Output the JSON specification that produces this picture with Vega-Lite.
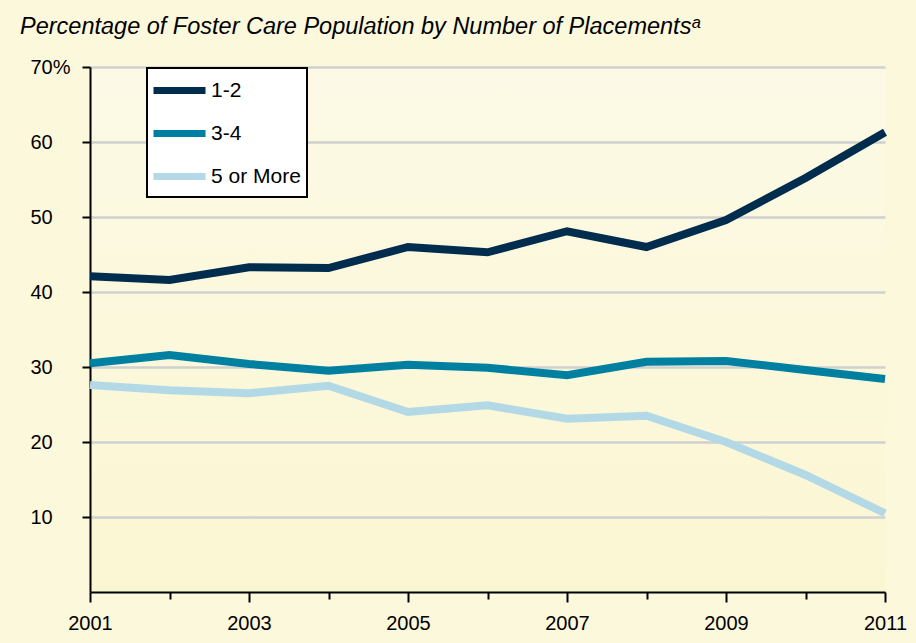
{
  "$schema": "https://vega.github.io/schema/vega-lite/v6.json",
  "width": 795,
  "height": 525,
  "autosize": {"type": "none"},
  "padding": {"left": 90, "top": 67, "right": 31, "bottom": 51},
  "background": "#fcf8dc",
  "title": {
    "text": "Percentage of Foster Care Population by Number of Placementsᵃ",
    "anchor": "start",
    "frame": "group",
    "dx": -70,
    "offset": 19,
    "font": "Liberation Sans",
    "fontStyle": "italic",
    "fontWeight": "normal",
    "fontSize": 23.5,
    "color": "black"
  },
  "config": {
    "view": {
      "stroke": null,
      "fill": {
        "gradient": "linear",
        "x1": 0, "y1": 0, "x2": 0, "y2": 1,
        "stops": [
          {"offset": 0, "color": "#fcfae6"},
          {"offset": 1, "color": "#fbf6d2"}
        ]
      }
    },
    "axis": {
      "domainColor": "black",
      "domainWidth": 2,
      "tickColor": "black",
      "tickWidth": 2,
      "labelColor": "black",
      "labelFont": "Liberation Sans",
      "labelFontSize": 20,
      "title": null
    }
  },
  "data": {
    "values": [
      {"year": 2001, "group": "1-2", "value": 42.1},
      {"year": 2002, "group": "1-2", "value": 41.6},
      {"year": 2003, "group": "1-2", "value": 43.3},
      {"year": 2004, "group": "1-2", "value": 43.2},
      {"year": 2005, "group": "1-2", "value": 46.0},
      {"year": 2006, "group": "1-2", "value": 45.3},
      {"year": 2007, "group": "1-2", "value": 48.1},
      {"year": 2008, "group": "1-2", "value": 46.0},
      {"year": 2009, "group": "1-2", "value": 49.6},
      {"year": 2010, "group": "1-2", "value": 55.2},
      {"year": 2011, "group": "1-2", "value": 61.3},
      {"year": 2001, "group": "3-4", "value": 30.5},
      {"year": 2002, "group": "3-4", "value": 31.6},
      {"year": 2003, "group": "3-4", "value": 30.4},
      {"year": 2004, "group": "3-4", "value": 29.5},
      {"year": 2005, "group": "3-4", "value": 30.3},
      {"year": 2006, "group": "3-4", "value": 29.9},
      {"year": 2007, "group": "3-4", "value": 28.9},
      {"year": 2008, "group": "3-4", "value": 30.7},
      {"year": 2009, "group": "3-4", "value": 30.8},
      {"year": 2010, "group": "3-4", "value": 29.6},
      {"year": 2011, "group": "3-4", "value": 28.4},
      {"year": 2001, "group": "5 or More", "value": 27.6},
      {"year": 2002, "group": "5 or More", "value": 26.9},
      {"year": 2003, "group": "5 or More", "value": 26.5},
      {"year": 2004, "group": "5 or More", "value": 27.5},
      {"year": 2005, "group": "5 or More", "value": 24.0},
      {"year": 2006, "group": "5 or More", "value": 24.9},
      {"year": 2007, "group": "5 or More", "value": 23.1},
      {"year": 2008, "group": "5 or More", "value": 23.5},
      {"year": 2009, "group": "5 or More", "value": 20.0},
      {"year": 2010, "group": "5 or More", "value": 15.6},
      {"year": 2011, "group": "5 or More", "value": 10.5}
    ]
  },
  "mark": {"type": "line", "strokeWidth": 8},
  "encoding": {
    "x": {
      "field": "year",
      "type": "quantitative",
      "scale": {"domain": [2001, 2011], "nice": false, "zero": false},
      "axis": {
        "values": [2001, 2002, 2003, 2004, 2005, 2006, 2007, 2008, 2009, 2010, 2011],
        "format": "d",
        "labelExpr": "datum.value % 2 == 1 ? datum.label : ''",
        "tickSize": {"condition": {"test": "datum.value % 2 == 1", "value": 10}, "value": 7},
        "labelPadding": 11,
        "grid": false,
        "labelFlush": false,
        "labelOverlap": false
      }
    },
    "y": {
      "field": "value",
      "type": "quantitative",
      "scale": {"domain": [0, 70], "nice": false},
      "axis": {
        "values": [10, 20, 30, 40, 50, 60, 70],
        "labelExpr": "datum.value == 70 ? '70%' : datum.label",
        "labelAlign": "left",
        "tickSize": 8,
        "labelPadding": 52,
        "grid": true,
        "gridColor": "#d0d0d0",
        "gridWidth": 2.5
      }
    },
    "color": {
      "field": "group",
      "type": "nominal",
      "scale": {
        "domain": ["1-2", "3-4", "5 or More"],
        "range": ["#002d4d", "#0080a0", "#b3d9e6"]
      },
      "legend": {
        "title": null,
        "orient": "none",
        "legendX": 57,
        "legendY": 1,
        "fillColor": "white",
        "strokeColor": "black",
        "padding": 6,
        "symbolType": "M-2,0H2",
        "symbolSize": 676,
        "symbolOffset": 10,
        "symbolStrokeWidth": 7,
        "labelFont": "Liberation Sans",
        "labelFontSize": 21,
        "labelColor": "black",
        "labelOffset": 15,
        "rowPadding": 12,
        "encode": {"legend": {"update": {"strokeWidth": {"value": 2}}}}
      }
    }
  }
}
